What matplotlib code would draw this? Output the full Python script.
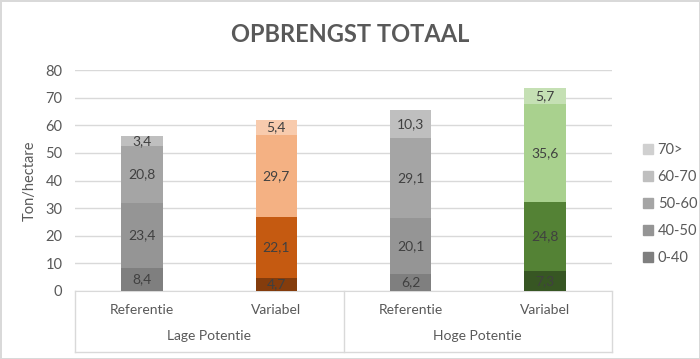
import numpy as np
import matplotlib.pyplot as plt
from matplotlib.patches import Patch

plt.rcParams['font.family'] = ['Lato', 'DejaVu Sans']

bars = ['Referentie', 'Variabel', 'Referentie', 'Variabel']
groups = ['Lage Potentie', 'Hoge Potentie']
series = ['0-40', '40-50', '50-60', '60-70', '70>']

v_0_40 = [8.4, 4.7, 6.2, 7.3]
v_40_50 = [23.4, 22.1, 20.1, 24.8]
v_50_60 = [20.8, 29.7, 29.1, 35.6]
v_60_70 = [3.4, 5.4, 10.3, 5.7]
v_70 = [0, 0, 0, 0]

grays = ['#7f7f7f', '#959595', '#a5a5a5', '#bfbfbf', '#d0d0d0']
oranges = ['#843c0c', '#c55a11', '#f4b183', '#f8cbad', '#fbe5d6']
greens = ['#375623', '#548235', '#a9d18e', '#c5e0b4', '#e2f0d9']
bar_cols = [grays, oranges, grays, greens]

txt = '#595959'

fig = plt.figure(figsize=(7, 3.59), dpi=100)
fig.patch.set_edgecolor('#d9d9d9')
fig.patch.set_linewidth(2)
ax = fig.add_axes([75/700, 1-291/359, (612-75)/700, (291-70)/359])

x = np.arange(len(bars))
data = [v_0_40, v_40_50, v_50_60, v_60_70, v_70]
bottom = np.zeros(len(bars))
for k, vals in enumerate(data):
    vals = np.array(vals)
    cols = [bar_cols[i][k] for i in range(len(bars))]
    rects = ax.bar(x, vals, 0.31, bottom=bottom, color=cols, zorder=3)
    for i, r in enumerate(rects):
        if vals[i] > 0:
            ax.text(x[i], bottom[i] + vals[i]/2, '{:.1f}'.format(vals[i]).replace('.', ','),
                    ha='center', va='center', fontsize=10, color='#404040', zorder=4)
    bottom += vals

ax.set_ylim(0, 80)
ax.set_xlim(-0.5, 3.5)
ax.set_yticks(range(0, 81, 10))
ax.yaxis.grid(True, color='#d9d9d9', lw=1)
ax.set_axisbelow(True)
for s in ['top', 'right', 'left']:
    ax.spines[s].set_visible(False)
ax.spines['bottom'].set_color('#d9d9d9')
ax.tick_params(axis='y', length=0, labelsize=10.5, colors=txt, pad=9)
ax.tick_params(axis='x', length=0, labelsize=10, colors=txt, pad=9)
ax.set_xticks(x)
ax.set_xticklabels(bars)
ax.set_ylabel('Ton/hectare', fontsize=10.5, color=txt, labelpad=6)

# group labels and separators
tr = ax.get_xaxis_transform()
ylow = -(352-291)/221
for gx in [-0.5, 1.5, 3.5]:
    ax.plot([gx, gx], [0, ylow], transform=tr, color='#d9d9d9', lw=1, clip_on=False)
ax.plot([-0.5, 3.5], [ylow, ylow], transform=tr, color='#d9d9d9', lw=1, clip_on=False)
for i, g in enumerate(groups):
    ax.text(2*i + 0.5, -(336-291)/221, g, transform=tr, ha='center', va='center',
            fontsize=10, color=txt)

fig.text(350/700, 1-35/359, 'OPBRENGST TOTAAL', ha='center', va='center',
         fontsize=17, fontweight='bold', color=txt)

handles = [Patch(color=grays[k], label=series[k]) for k in range(len(series))][::-1]
leg = fig.legend(handles=handles, loc='center left', bbox_to_anchor=(630/700, 1-204/359),
                 frameon=False, fontsize=10.5, labelspacing=0.9, handlelength=0.7,
                 handleheight=0.7, handletextpad=0.3)
for t in leg.get_texts():
    t.set_color(txt)

plt.savefig('out.png', dpi=100)
